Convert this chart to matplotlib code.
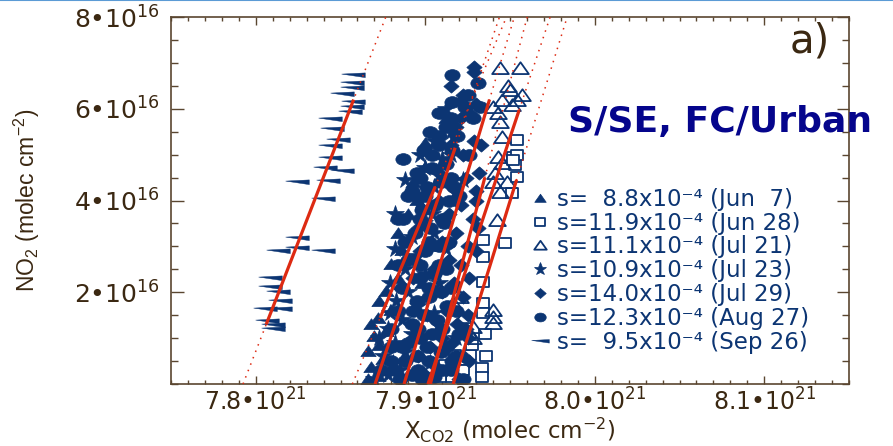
import numpy as np
import matplotlib
matplotlib.use('Agg')
import matplotlib.pyplot as plt
from matplotlib.path import Path
from matplotlib.lines import Line2D
from matplotlib.ticker import MultipleLocator, FixedLocator, FuncFormatter

plt.rcParams['font.family'] = ['DejaVu Sans']
plt.rcParams['mathtext.fontset'] = 'custom'
plt.rcParams['mathtext.default'] = 'regular'

# ---------------- data (x in 1e21, y in 1e16 molec cm^-2) ----------------
dates = ['Jun  7', 'Jun 28', 'Jul 21', 'Jul 23', 'Jul 29', 'Aug 27', 'Sep 26']
slopes = [8.8, 11.9, 11.1, 10.9, 14.0, 12.3, 9.5]          # x 1e-4
x_intercepts = [7.857, 7.9165, 7.9016, 7.8704, 7.903, 7.8875, 7.7925]
fit_y_lo = [1.44, 0.0, 0.0, 0.0, 0.0, 0.0, 1.3]
fit_y_hi = [4.3, 4.45, 5.97, 5.15, 4.5, 6.2, 6.2]

jun7_x = [7.866, 7.872, 7.868, 7.875, 7.866, 7.873, 7.870, 7.877, 7.868, 7.872, 7.880, 7.873,
          7.877, 7.884, 7.880, 7.886, 7.884, 7.890, 7.895, 7.893, 7.900, 7.900, 7.912, 7.921,
          7.905, 7.898]
jun7_y = [0.10, 0.18, 0.38, 0.55, 0.72, 0.85, 1.05, 1.15, 1.30, 1.44, 1.62, 1.80,
          2.02, 2.30, 2.62, 2.92, 3.30, 3.70, 4.02, 4.40, 4.72, 5.25, 5.80, 6.24,
          3.00, 2.20]

jun28_x = [7.9518, 7.9530, 7.9541, 7.9512, 7.9541, 7.9541, 7.9518, 7.9471, 7.9341, 7.9341,
           7.9341, 7.9341, 7.9341, 7.9223, 7.9223, 7.9335, 7.9335, 7.9158, 7.9087, 7.9117,
           7.9176, 7.9264, 7.9276, 7.9350, 7.9360]
jun28_y = [4.95, 4.77, 4.51, 4.16, 5.32, 4.99, 4.88, 3.07, 3.14, 2.77,
           2.22, 1.77, 1.55, 0.52, 0.31, 0.35, 0.15, 0.15, 0.15, 0.41,
           0.63, 0.63, 0.85, 1.10, 0.60]

jul21_x = [7.9441, 7.9559, 7.9500, 7.9571, 7.9453, 7.9512, 7.9400, 7.9429, 7.9441, 7.9453,
           7.9429, 7.9453, 7.9412, 7.9400, 7.9482, 7.9441, 7.9423, 7.9400, 7.9400, 7.9400,
           7.9205, 7.9223, 7.9282, 7.9282, 7.9252, 7.9164, 7.9540, 7.9490]
jul21_y = [6.89, 6.89, 6.41, 6.30, 6.19, 6.08, 6.04, 5.91, 5.71, 5.38,
           4.95, 4.82, 4.60, 4.40, 4.40, 4.19, 3.58, 1.61, 1.46, 1.33,
           1.90, 1.46, 1.24, 1.00, 1.13, 1.77, 6.20, 6.50]

jul23_x = [7.870, 7.878, 7.885, 7.875, 7.882, 7.888, 7.878, 7.886, 7.892, 7.883, 7.890, 7.896,
           7.888, 7.895, 7.900, 7.892, 7.899, 7.905, 7.897, 7.905, 7.900, 7.910, 7.905, 7.915,
           7.912, 7.881, 7.903, 7.873, 7.918, 7.879, 7.905, 7.879, 7.908, 7.882, 7.912,
           7.882, 7.904, 7.888, 7.922, 7.897, 7.915]
jul23_y = [0.10, 0.20, 0.30, 0.60, 0.90, 0.70, 1.20, 1.40, 1.10, 1.80, 2.00, 1.70,
           2.50, 2.80, 2.40, 3.20, 3.50, 3.30, 4.00, 4.30, 4.70, 4.90, 5.30, 5.50,
           6.00, 0.45, 0.45, 1.00, 1.00, 1.55, 1.55, 2.20, 2.20, 2.95, 2.95,
           3.70, 3.70, 4.45, 4.45, 5.00, 5.00]

jul29_x = [7.900, 7.906, 7.912, 7.903, 7.910, 7.916, 7.906, 7.913, 7.919, 7.910, 7.917, 7.922,
           7.905, 7.914, 7.921, 7.910, 7.918, 7.925, 7.914, 7.921, 7.928, 7.916, 7.924, 7.930,
           7.912, 7.922, 7.929, 7.918, 7.926, 7.922, 7.929, 7.929, 7.915, 7.924, 7.926, 7.920,
           7.896, 7.922, 7.893, 7.925, 7.901, 7.925, 7.893, 7.926, 7.897, 7.930, 7.896, 7.931,
           7.908, 7.930, 7.908, 7.932, 7.915, 7.933, 7.921, 7.930]
jul29_y = [0.20, 0.40, 0.30, 0.80, 1.00, 0.90, 1.40, 1.60, 1.30, 2.00, 2.20, 1.90,
           2.50, 2.70, 2.60, 3.10, 3.30, 3.00, 3.70, 3.90, 3.60, 4.30, 4.50, 4.20,
           4.80, 5.00, 5.30, 5.60, 5.90, 6.30, 6.91, 6.80, 6.50, 1.20, 0.50, 0.10,
           0.60, 0.60, 1.00, 1.00, 1.50, 1.50, 2.30, 2.30, 2.90, 2.90, 3.40, 3.40,
           4.00, 4.00, 4.60, 4.60, 5.20, 5.20, 5.80, 6.10]

aug27_x = [7.885, 7.892, 7.898, 7.905, 7.888, 7.895, 7.902, 7.909, 7.890, 7.897, 7.904, 7.892,
           7.899, 7.907, 7.895, 7.902, 7.909, 7.897, 7.905, 7.912, 7.890, 7.900, 7.908, 7.894,
           7.903, 7.911, 7.898, 7.906, 7.914, 7.892, 7.901, 7.909, 7.917, 7.895, 7.904, 7.912,
           7.899, 7.908, 7.916, 7.903, 7.912, 7.908, 7.9158, 7.9311, 7.9158, 7.9235, 7.9323,
           7.915, 7.918, 7.920, 7.922, 7.913, 7.882, 7.880, 7.884, 7.887,
           7.874, 7.896, 7.910, 7.880, 7.916, 7.886, 7.901, 7.912, 7.880, 7.896, 7.910,
           7.884, 7.893, 7.918, 7.886, 7.902, 7.915, 7.884, 7.897, 7.908, 7.888, 7.902,
           7.914, 7.887, 7.897, 7.910, 7.890, 7.900, 7.920, 7.897, 7.915, 7.904, 7.926,
           7.908, 7.919, 7.915, 7.928, 7.925]
aug27_y = [0.10, 0.20, 0.10, 0.15, 0.50, 0.60, 0.50, 0.70, 0.90, 1.00, 1.10, 1.30,
           1.50, 1.40, 1.80, 1.90, 2.00, 2.30, 2.40, 2.50, 2.70, 2.90, 3.00, 3.30,
           3.40, 3.50, 3.80, 3.90, 4.00, 4.20, 4.30, 4.40, 4.30, 4.60, 4.70, 4.80,
           5.10, 5.20, 5.10, 5.50, 5.60, 5.90, 6.74, 6.56, 6.15, 6.04, 6.04,
           0.30, 0.60, 1.10, 0.10, 1.70, 0.30, 0.80, 3.60, 4.90,
           0.30, 0.30, 0.30, 0.50, 0.50, 0.80, 0.80, 0.80, 1.20, 1.20, 1.20,
           1.60, 1.60, 1.60, 2.10, 2.10, 2.10, 2.60, 2.60, 2.60, 3.10, 3.10,
           3.10, 3.60, 3.60, 3.60, 4.10, 4.10, 4.10, 4.50, 4.50, 5.00, 5.00,
           5.40, 5.40, 5.80, 5.80, 6.30]

sep26_x = [7.8574, 7.8568, 7.8568, 7.8509, 7.8574, 7.8568, 7.8556, 7.8438, 7.8450, 7.8485,
           7.8438, 7.8438, 7.8409, 7.8509, 7.8243, 7.8426, 7.8397, 7.8243, 7.8243, 7.8131,
           7.8397, 7.8084, 7.8084, 7.8131, 7.8143, 7.8055, 7.8143, 7.8066, 7.8102, 7.8102]
sep26_y = [6.74, 6.56, 6.45, 6.32, 6.15, 6.04, 5.93, 5.78, 5.56, 5.32,
           5.19, 4.93, 4.71, 4.64, 4.40, 4.43, 4.03, 3.18, 2.96, 2.90,
           2.90, 2.31, 2.11, 2.01, 1.81, 1.64, 1.64, 1.37, 1.29, 1.20]

xlim = (7.75, 8.15)
ylim = (0.0, 8.0)
x_major = [7.8, 7.9, 8.0, 8.1]
y_major = [2, 4, 6, 8]

# ---------------- styles ----------------
NAVY = '#0c3573'
RED = '#dd2a12'
BROWN = '#5a4630'
DARK = '#3b2812'

ell = Path.unit_circle()
ellipse_path = Path(ell.vertices * np.array([1.3, 1.0]), ell.codes)
diamond_path = Path([(0, 1), (1.15, 0), (0, -1), (-1.15, 0), (0, 1)],
                    [Path.MOVETO, Path.LINETO, Path.LINETO, Path.LINETO, Path.CLOSEPOLY])
rect_path = Path([(-1.3, -1), (1.3, -1), (1.3, 1), (-1.3, 1), (-1.3, -1)],
                 [Path.MOVETO, Path.LINETO, Path.LINETO, Path.LINETO, Path.CLOSEPOLY])
wedge_path = Path([(-1, 0.12), (1, 0.22), (1, -0.18), (-1, 0.12)],
                  [Path.MOVETO, Path.LINETO, Path.LINETO, Path.CLOSEPOLY])
tri_path = Path([(-1.2, -0.8), (1.2, -0.8), (0, 0.9), (-1.2, -0.8)],
                [Path.MOVETO, Path.LINETO, Path.LINETO, Path.CLOSEPOLY])

series = [
    (jun7_x, jun7_y, dict(marker=tri_path, markersize=11, mfc=NAVY, mec=NAVY, mew=0.5)),
    (jun28_x, jun28_y, dict(marker=rect_path, markersize=9, mfc='white', mec=NAVY, mew=1.3)),
    (jul21_x, jul21_y, dict(marker=tri_path, markersize=12, mfc='none', mec=NAVY, mew=1.3)),
    (jul23_x, jul23_y, dict(marker='*', markersize=13, mfc=NAVY, mec=NAVY, mew=0.5)),
    (jul29_x, jul29_y, dict(marker=diamond_path, markersize=11, mfc=NAVY, mec=NAVY, mew=0.5)),
    (aug27_x, aug27_y, dict(marker=ellipse_path, markersize=11, mfc=NAVY, mec=NAVY, mew=0.5)),
    (sep26_x, sep26_y, dict(marker=wedge_path, markersize=17, mfc=NAVY, mec=NAVY, mew=0.3)),
]

fig = plt.figure(figsize=(8.93, 4.46), dpi=100)
ax = fig.add_axes([171/893, 1 - 384/446, 678/893, 367/446])

handles = []
for (xs, ys, st) in series:
    h, = ax.plot(xs, ys, linestyle='none', zorder=2, **st)
    handles.append(h)

# fit lines: dotted full extent + solid over data range
yy_full = np.array(ylim)
for s, x0, lo, hi in zip(slopes, x_intercepts, fit_y_lo, fit_y_hi):
    k = s * 1e-4 * 1e21 / 1e16   # NO2 per XCO2 in plotting units
    ax.plot(x0 + yy_full / k, yy_full, color=RED, lw=1.1, linestyle=(0, (1, 3.5)), zorder=3)
    yy = np.array([lo, hi])
    ax.plot(x0 + yy / k, yy, color=RED, lw=2.3, zorder=4, solid_capstyle='butt')

ax.set_xlim(*xlim)
ax.set_ylim(*ylim)
ax.xaxis.set_major_locator(FixedLocator(x_major))
ax.xaxis.set_minor_locator(MultipleLocator(0.01))
ax.yaxis.set_major_locator(FixedLocator(y_major))
ax.yaxis.set_minor_locator(MultipleLocator(0.5))
ax.xaxis.set_major_formatter(FuncFormatter(lambda v, p: f"{v:.1f}\u202210$^{{21}}$"))
ax.yaxis.set_major_formatter(FuncFormatter(lambda v, p: f"{v:.0f}\u202210$^{{16}}$"))

for sp in ax.spines.values():
    sp.set_color(BROWN)
    sp.set_linewidth(1.2)
ax.tick_params(axis='both', which='both', direction='in', top=True, right=True,
               color=BROWN, width=1.0, labelcolor=DARK, labelsize=18)
ax.tick_params(axis='x', which='major', length=5.5, pad=3, labelsize=17)
ax.tick_params(axis='x', which='minor', length=2.8)
ax.tick_params(axis='y', which='major', length=9, pad=8)
ax.tick_params(axis='y', which='minor', length=4.8)

ax.set_xlabel('X$_{CO2}$ (molec cm$^{-2}$)', fontsize=16.5, color=DARK)
ax.xaxis.set_label_coords(0.5, -0.088)
ax.set_ylabel('NO$_2$ (molec cm$^{-2}$)', fontsize=16.5, color=DARK,
              family=['Liberation Sans'])
ax.yaxis.set_label_coords(-0.19, 0.5)

labels = []
for s, d in zip(slopes, dates):
    sv = f"{s:.1f}"
    if s < 10:
        sv = '  ' + sv
    labels.append(f"s={sv}x10\u207b\u2074 ({d})")
leg = ax.legend(handles, labels, loc='upper left', bbox_to_anchor=(0.53, 0.535),
                frameon=False, fontsize=16.5, labelcolor=NAVY, handlelength=0.8,
                handletextpad=0.35, labelspacing=0.04, borderpad=0, borderaxespad=0,
                numpoints=1, markerscale=0.75)

fig.text(568/893, 1 - 132/446, 'S/SE, FC/Urban', fontsize=26, fontweight='bold',
         color='#05058c', ha='left', va='baseline')
fig.text(830/893, 1 - 52/446, 'a)', fontsize=29, color=DARK, ha='right', va='baseline')

fig.add_artist(Line2D([0, 1], [0.999, 0.999], transform=fig.transFigure,
                      color='#5b9bd5', lw=1.5))

fig.savefig('out.png', dpi=100)
